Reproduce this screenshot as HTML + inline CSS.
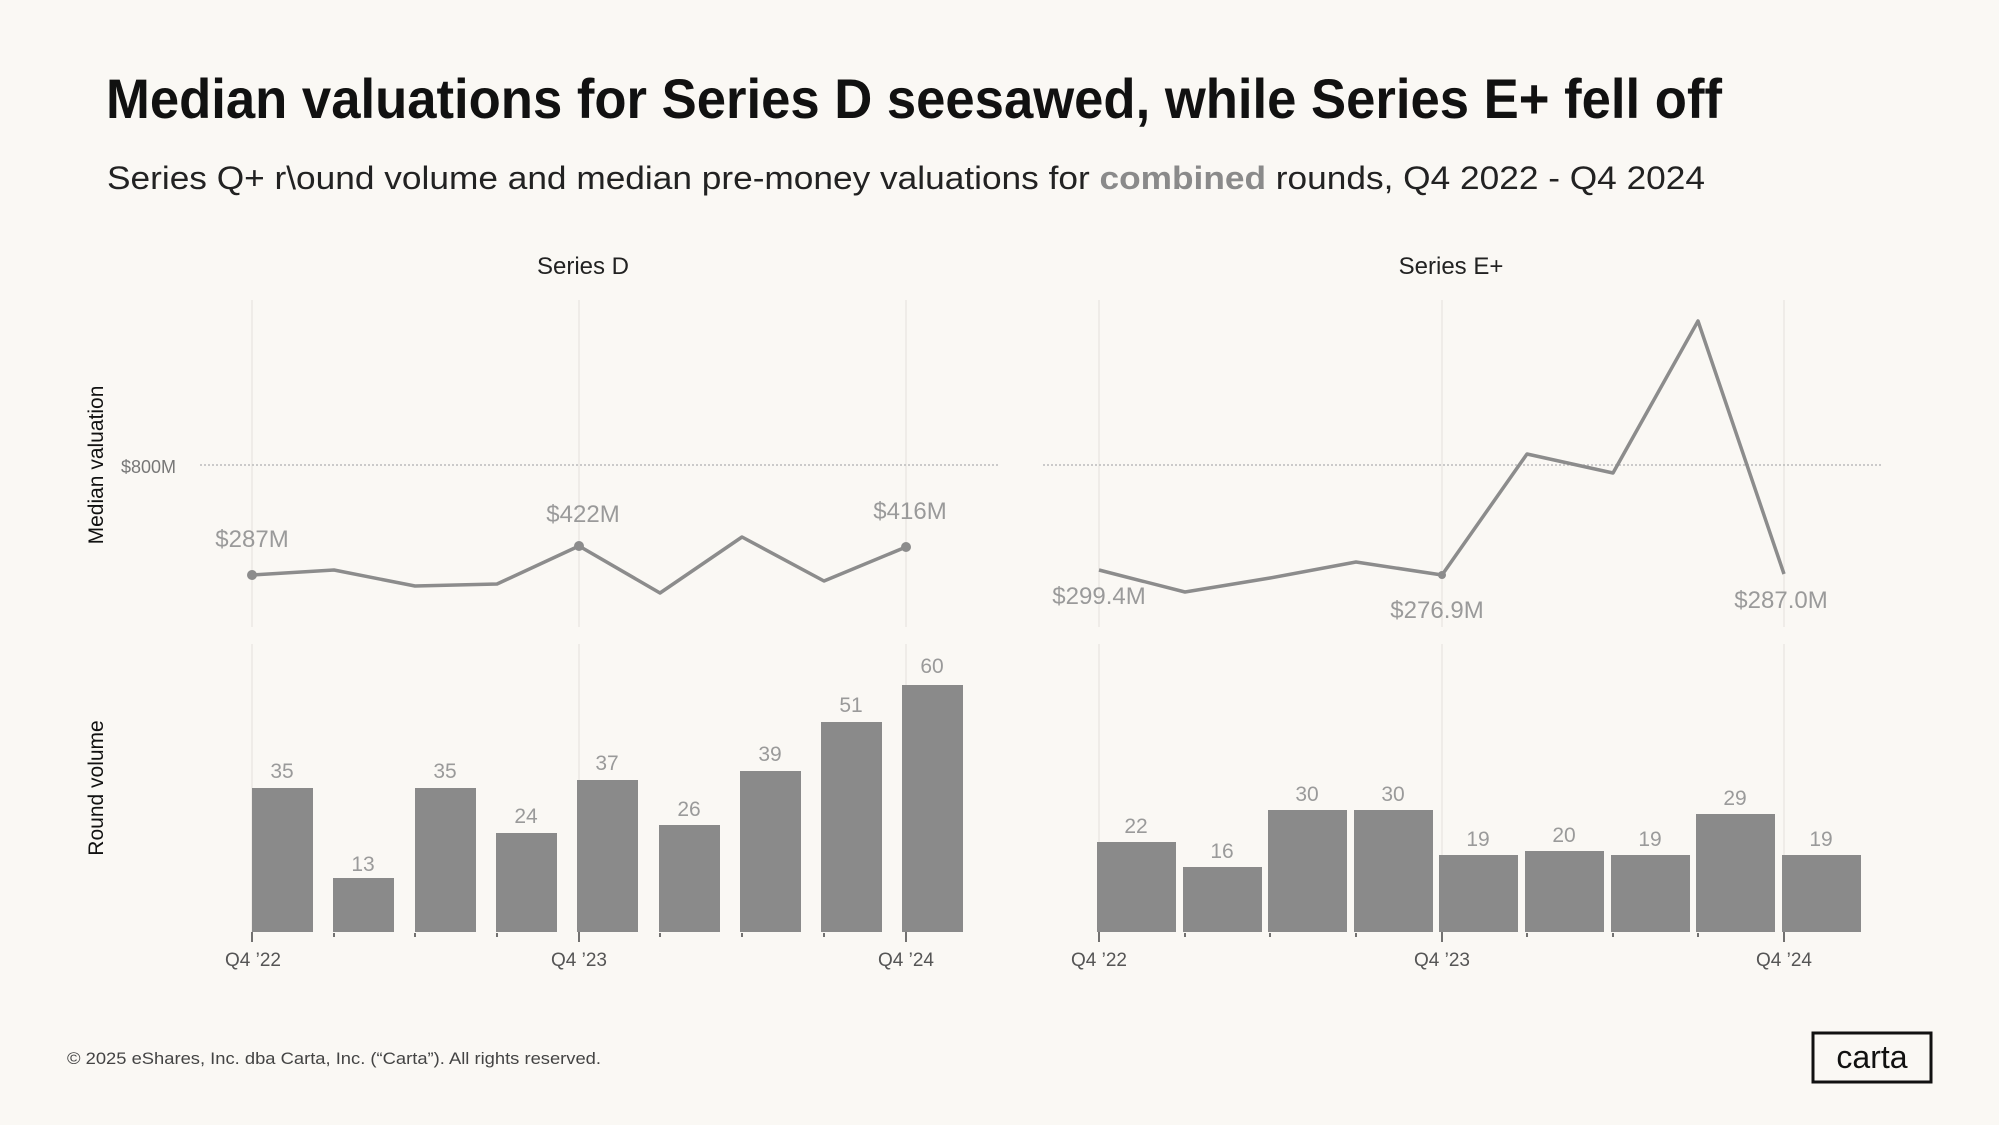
<!DOCTYPE html>
<html><head><meta charset="utf-8"><style>
html,body{margin:0;padding:0;background:#faf8f4;}
svg{display:block;font-family:"Liberation Sans",sans-serif;}
</style></head><body>
<svg width="1999" height="1125" viewBox="0 0 1999 1125" xmlns="http://www.w3.org/2000/svg">
<rect width="1999" height="1125" fill="#faf8f4"/>
<text x="106" y="118" font-size="56" font-weight="bold" fill="#111" textLength="1616" lengthAdjust="spacingAndGlyphs">Median valuations for Series D seesawed, while Series E+ fell off</text>
<text x="107" y="189" font-size="32" fill="#222" textLength="1598" lengthAdjust="spacingAndGlyphs">Series Q+ r\ound volume and median pre-money valuations for <tspan font-weight="bold" fill="#8a8a8a">combined</tspan>  rounds, Q4 2022 - Q4 2024</text>
<text x="583" y="274" font-size="24" fill="#222" text-anchor="middle">Series D</text>
<text x="1451" y="274" font-size="24" fill="#222" text-anchor="middle">Series E+</text>
<text transform="translate(103,465) rotate(-90)" font-size="21" fill="#111" text-anchor="middle">Median valuation</text>
<text transform="translate(103,788) rotate(-90)" font-size="21" fill="#111" text-anchor="middle">Round volume</text>
<g stroke="#ebe8e3" stroke-width="1.5">
<line x1="252" y1="300" x2="252" y2="627"/><line x1="579" y1="300" x2="579" y2="627"/><line x1="906" y1="300" x2="906" y2="627"/>
<line x1="252" y1="644" x2="252" y2="932"/><line x1="579" y1="644" x2="579" y2="932"/><line x1="906" y1="644" x2="906" y2="932"/>
<line x1="1099" y1="300" x2="1099" y2="627"/><line x1="1442" y1="300" x2="1442" y2="627"/><line x1="1784" y1="300" x2="1784" y2="627"/>
<line x1="1099" y1="644" x2="1099" y2="932"/><line x1="1442" y1="644" x2="1442" y2="932"/><line x1="1784" y1="644" x2="1784" y2="932"/>
</g>
<g stroke="#bbb" stroke-width="1.5" stroke-dasharray="2,2">
<line x1="200" y1="465" x2="998" y2="465"/><line x1="1043" y1="465" x2="1882" y2="465"/>
</g>
<text x="121" y="473" font-size="18" fill="#777">$800M</text>
<g fill="none" stroke="#8c8c8c" stroke-width="3.5" stroke-linejoin="round">
<polyline points="252,575 334,570 415,586 497,584 579,546 660,593 742,537 824,581 906,547"/>
<polyline points="1099,570 1185,592 1270,578 1356,562 1442,575 1527,454 1613,473 1698,321 1784,574"/>
</g>
<g fill="#8c8c8c"><circle cx="252" cy="575" r="5"/><circle cx="579" cy="546" r="5"/><circle cx="906" cy="547" r="5"/><circle cx="1442" cy="575" r="4"/></g>
<g font-size="24" fill="#9a9a9a" text-anchor="middle">
<text x="252" y="547">$287M</text><text x="583" y="522">$422M</text><text x="910" y="519">$416M</text>
<text x="1099" y="604">$299.4M</text><text x="1437" y="618">$276.9M</text><text x="1781" y="608">$287.0M</text>
</g>
<g fill="#8a8a8a">
<rect x="252" y="788" width="61" height="144"/><rect x="333" y="878" width="61" height="54"/><rect x="415" y="788" width="61" height="144"/><rect x="496" y="833" width="61" height="99"/><rect x="577" y="780" width="61" height="152"/><rect x="659" y="825" width="61" height="107"/><rect x="740" y="771" width="61" height="161"/><rect x="821" y="722" width="61" height="210"/><rect x="902" y="685" width="61" height="247"/>
<rect x="1097" y="842" width="79" height="90"/><rect x="1183" y="867" width="79" height="65"/><rect x="1268" y="810" width="79" height="122"/><rect x="1354" y="810" width="79" height="122"/><rect x="1439" y="855" width="79" height="77"/><rect x="1525" y="851" width="79" height="81"/><rect x="1611" y="855" width="79" height="77"/><rect x="1696" y="814" width="79" height="118"/><rect x="1782" y="855" width="79" height="77"/>
</g>
<g font-size="21" fill="#9a9a9a" text-anchor="middle">
<text x="282" y="778">35</text><text x="363" y="871">13</text><text x="445" y="778">35</text><text x="526" y="823">24</text><text x="607" y="770">37</text><text x="689" y="816">26</text><text x="770" y="761">39</text><text x="851" y="712">51</text><text x="932" y="673">60</text>
<text x="1136" y="833">22</text><text x="1222" y="858">16</text><text x="1307" y="801">30</text><text x="1393" y="801">30</text><text x="1478" y="846">19</text><text x="1564" y="842">20</text><text x="1650" y="846">19</text><text x="1735" y="805">29</text><text x="1821" y="846">19</text>
</g>
<g stroke="#444" stroke-width="1.5">
<line x1="252" y1="932" x2="252" y2="942"/><line x1="334" y1="933" x2="334" y2="937"/><line x1="415" y1="933" x2="415" y2="937"/><line x1="497" y1="933" x2="497" y2="937"/><line x1="579" y1="932" x2="579" y2="942"/><line x1="660" y1="933" x2="660" y2="937"/><line x1="742" y1="933" x2="742" y2="937"/><line x1="824" y1="933" x2="824" y2="937"/><line x1="906" y1="932" x2="906" y2="942"/>
<line x1="1099" y1="932" x2="1099" y2="942"/><line x1="1185" y1="933" x2="1185" y2="937"/><line x1="1270" y1="933" x2="1270" y2="937"/><line x1="1356" y1="933" x2="1356" y2="937"/><line x1="1442" y1="932" x2="1442" y2="942"/><line x1="1527" y1="933" x2="1527" y2="937"/><line x1="1613" y1="933" x2="1613" y2="937"/><line x1="1698" y1="933" x2="1698" y2="937"/><line x1="1784" y1="932" x2="1784" y2="942"/>
</g>
<g font-size="19" fill="#555" text-anchor="middle">
<text x="253" y="966">Q4 ’22</text><text x="579" y="966">Q4 ’23</text><text x="906" y="966">Q4 ’24</text>
<text x="1099" y="966">Q4 ’22</text><text x="1442" y="966">Q4 ’23</text><text x="1784" y="966">Q4 ’24</text>
</g>
<text x="67" y="1064" font-size="17" fill="#444" textLength="534" lengthAdjust="spacingAndGlyphs">© 2025 eShares, Inc. dba Carta, Inc. (“Carta”). All rights reserved.</text>
<rect x="1813" y="1033" width="118" height="49" fill="none" stroke="#111" stroke-width="3"/>
<text x="1872" y="1068" font-size="32" fill="#111" text-anchor="middle">carta</text>
</svg>
</body></html>
